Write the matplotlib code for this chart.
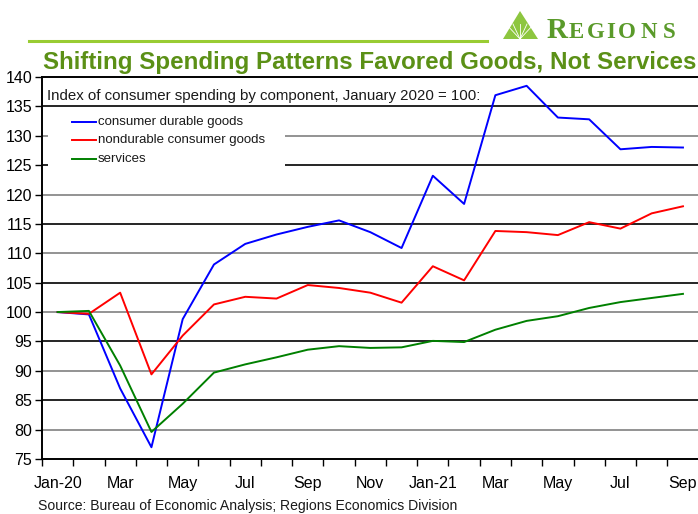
import matplotlib
matplotlib.use("Agg")
import matplotlib.pyplot as plt
from matplotlib.patches import Polygon, Rectangle
from matplotlib.lines import Line2D

plt.rcParams['font.family'] = ['Liberation Sans', 'DejaVu Sans']

months = ["Jan-20", "Feb", "Mar", "Apr", "May", "Jun", "Jul", "Aug", "Sep", "Oct", "Nov", "Dec",
          "Jan-21", "Feb", "Mar", "Apr", "May", "Jun", "Jul", "Aug", "Sep"]
durable = [100, 99.6, 87.0, 77.0, 98.8, 108.1, 111.6, 113.2, 114.5, 115.6, 113.6, 110.9,
           123.2, 118.4, 136.9, 138.5, 133.1, 132.8, 127.7, 128.1, 128.0]
nondurable = [100, 99.7, 103.3, 89.4, 96.0, 101.3, 102.6, 102.3, 104.6, 104.1, 103.3, 101.6,
              107.8, 105.4, 113.8, 113.6, 113.1, 115.3, 114.2, 116.8, 118.0]
services = [100, 100.2, 90.9, 79.6, 84.4, 89.7, 91.1, 92.3, 93.6, 94.2, 93.9, 94.0,
            95.1, 94.9, 97.0, 98.5, 99.3, 100.7, 101.7, 102.4, 103.1]
series_labels = ["consumer durable goods", "nondurable consumer goods", "services"]
series_colors = ["#0000ff", "#ff0000", "#008000"]
yticks = list(range(75, 141, 5))

W, H = 698, 514
fig = plt.figure(figsize=(W / 100, H / 100), dpi=100)

def fx(px):
    return px / W

def fy(py):
    return 1 - py / H

ax = fig.add_axes([fx(42), fy(459), fx(698.6) - fx(42), fy(77) - fy(459)])
x = list(range(len(months)))

# gridlines
for v in yticks[1:-1]:
    col = "#808080" if v % 10 == 0 else "#000000"
    ax.axhline(v, color=col, lw=1.2, zorder=1)

for vals, lab, col in zip([durable, nondurable, services], series_labels, series_colors):
    ax.plot(x, vals, color=col, lw=1.4, label=lab, zorder=3)

ax.set_xlim(-0.5, len(months) - 0.5)
ax.set_ylim(75, 140)
ax.set_yticks(yticks)
ax.set_yticklabels([str(v) for v in yticks], fontsize=11.5)
ax.set_xticks([i - 0.5 for i in range(len(months) + 1)])
ax.set_xticklabels([])
ax.set_xticks(x[::2], minor=True)
ax.set_xticklabels(months[::2], minor=True, fontsize=11.5)
ax.tick_params(axis='x', which='major', direction='out', length=5, width=1.0)
ax.tick_params(axis='x', which='minor', length=0, pad=12)
ax.tick_params(axis='y', direction='out', length=5, width=1.0, pad=2)
for s in ['left', 'bottom', 'top']:
    ax.spines[s].set_color('black')
    ax.spines[s].set_linewidth(1.4)
ax.spines['right'].set_visible(False)

# white box behind legend
ax.add_patch(Rectangle((fx(48), fy(170)), fx(285) - fx(48), fy(112) - fy(170),
                       transform=fig.transFigure, facecolor='white', edgecolor='none', zorder=2))

# legend entries
leg_y = [122, 140, 159]
for lab, col, yy in zip(series_labels, series_colors, leg_y):
    fig.add_artist(Line2D([fx(72), fx(96)], [fy(yy), fy(yy)], color=col, lw=1.4))
    fig.text(fx(98), fy(yy), lab, fontsize=9.5, va='center', ha='left', color='#1a1a1a')

fig.text(fx(47), fy(96), "Index of consumer spending by component, January 2020 = 100:",
         fontsize=10.8, va='center', ha='left', color='#1a1a1a')

# title
fig.text(fx(43), fy(62), "Shifting Spending Patterns Favored Goods, Not Services",
         fontsize=17.35, fontweight='bold', color='#5b9016', va='center', ha='left')

# top green rule
fig.add_artist(Line2D([fx(29), fx(487)], [fy(41), fy(41)], color='#99cc33', lw=2.2))

# logo
tri = Polygon([[fx(503), fy(39)], [fx(520), fy(11)], [fx(538), fy(39)]], closed=True,
              transform=fig.transFigure, facecolor='#8dc63f', edgecolor='none')
fig.add_artist(tri)
for dx in [-10, -5, 0, 5, 10]:
    fig.add_artist(Line2D([fx(520), fx(520 + dx * 1.4)], [fy(39), fy(24)], color='white', lw=0.6))
logo_letters = [("R", 557.5, 21), ("E", 576, 16.5), ("G", 596, 16.5), ("I", 611, 16.5),
                ("O", 627, 16.5), ("N", 648.5, 16.5), ("S", 669.5, 16.5)]
for ch, px, fs in logo_letters:
    fig.text(fx(px), fy(37.5), ch, fontsize=fs, family='Liberation Serif', fontweight='bold',
             color='#5a9a2a', va='baseline', ha='center')

# source
fig.text(fx(38), fy(506), "Source: Bureau of Economic Analysis; Regions Economics Division",
         fontsize=10.1, va='center', ha='left', color='#1a1a1a')

fig.savefig("out.png", dpi=100)
